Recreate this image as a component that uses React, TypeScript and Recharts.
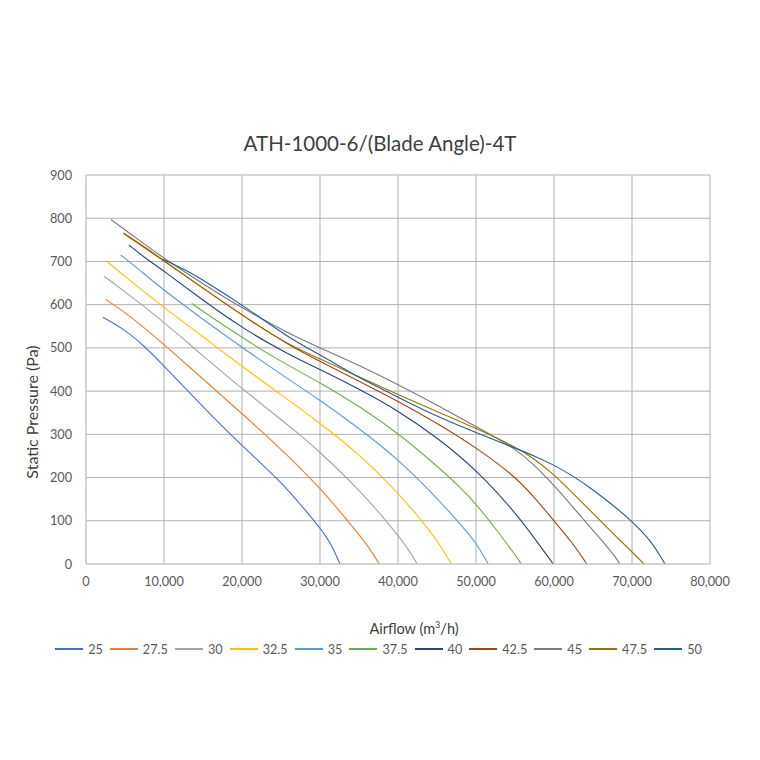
import { LineChart, Line, XAxis, YAxis, CartesianGrid } from "recharts";

// blade angles, one curve each: [airflow m3/h, static pressure Pa]
const angles = ["25", "27.5", "30", "32.5", "35", "37.5", "40", "42.5", "45", "47.5", "50"];

const curve25 = [[2150, 571], [5000, 542], [7500, 504], [10000, 458], [12500, 411], [15000, 364], [17500, 318], [20000, 274], [22500, 232], [25000, 189], [27500, 138], [30000, 84], [31500, 45], [32550, 0]];
const curve275 = [[2550, 612], [5000, 582], [7500, 546], [10000, 508], [15000, 428], [20000, 348], [25000, 266], [27500, 222], [30000, 175], [32500, 123], [35000, 68], [36500, 33], [37600, 0]];
const curve30 = [[2300, 666], [5000, 630], [10000, 560], [15000, 481], [20000, 406], [25000, 334], [27500, 298], [30000, 259], [35000, 172], [38000, 110], [40000, 66], [41500, 30], [42450, 0]];
const curve325 = [[2550, 702], [5000, 665], [10000, 593], [15000, 526], [20000, 457], [25000, 392], [30000, 326], [35000, 255], [40000, 165], [42500, 112], [45000, 56], [46850, 0]];
const curve35 = [[4450, 715], [7500, 671], [10000, 633], [15000, 566], [20000, 501], [25000, 439], [30000, 379], [35000, 314], [40000, 243], [45000, 153], [48000, 92], [50000, 50], [51580, 0]];
const curve375 = [[13550, 603], [15000, 584], [20000, 524], [25000, 468], [30000, 420], [35000, 366], [40000, 303], [45000, 227], [48000, 177], [50000, 139], [52500, 82], [55000, 22], [55800, 0]];
const curve40 = [[5500, 738], [7500, 709], [10000, 678], [15000, 610], [20000, 546], [26000, 484], [30000, 450], [35000, 405], [40000, 355], [45000, 293], [50000, 219], [55000, 120], [57500, 60], [59900, 0]];
const curve425 = [[4800, 765], [7500, 732], [10000, 701], [15000, 638], [20000, 576], [26000, 506], [30000, 469], [35000, 423], [40000, 377], [45000, 326], [50000, 270], [55000, 203], [57500, 154], [60000, 100], [62500, 46], [64200, 0]];
const curve45 = [[3200, 797], [5000, 773], [7500, 740], [10000, 707], [15000, 648], [20000, 592], [26000, 533], [30000, 500], [35000, 460], [40000, 415], [45000, 368], [50000, 318], [55000, 268], [57500, 229], [60000, 182], [62500, 130], [65000, 78], [67500, 26], [68460, 0]];
const curve475 = [[4800, 766], [7500, 734], [10000, 702], [15000, 638], [20000, 575], [26000, 506], [30000, 475], [35000, 433], [40000, 392], [45000, 353], [50000, 314], [55000, 272], [57500, 243], [60000, 207], [62500, 162], [65000, 117], [67500, 72], [70000, 28], [71540, 0]];
const curve50 = [[9800, 705], [12500, 683], [15000, 657], [20000, 600], [26000, 523], [30000, 484], [32600, 457], [35000, 431], [40000, 386], [45000, 341], [50000, 304], [55000, 268], [57500, 250], [60000, 229], [62500, 203], [65000, 172], [67500, 137], [70000, 99], [72500, 53], [74230, 0]];

const curves = [curve25, curve275, curve30, curve325, curve35, curve375, curve40, curve425, curve45, curve475, curve50];
const colors = ["#4472C4", "#ED7D31", "#A5A5A5", "#FFC000", "#5B9BD5", "#70AD47", "#264478", "#9E480E", "#7a7a7a", "#997300", "#255E91"];

const xTicks = [0, 10000, 20000, 30000, 40000, 50000, 60000, 70000, 80000];
const yTicks = [0, 100, 200, 300, 400, 500, 600, 700, 800, 900];

const font = "Lato, 'Open Sans', sans-serif";
const tickStyle = { fontSize: 12.7, fill: "#595959", fontFamily: font };

const center = (x: number, y: number) => ({
  position: "absolute" as const,
  left: x,
  top: y,
  transform: "translate(-50%, -50%)",
  whiteSpace: "nowrap" as const,
  lineHeight: 1,
  fontFamily: font,
});

export default function App() {
  return (
    <div style={{ position: "absolute", left: 0, top: 0, width: 760, height: 760, background: "#fff" }}>
      <div style={{ ...center(380, 143), fontSize: 20.5, color: "#404040" }}>ATH-1000-6/(Blade Angle)-4T</div>

      <LineChart width={760} height={760} margin={{ top: 175, right: 50, left: 0, bottom: 166 }}>
        <CartesianGrid stroke="#b0b0b0" strokeWidth={1} />
        <XAxis
          type="number"
          dataKey="x"
          domain={[0, 80000]}
          ticks={xTicks}
          tickFormatter={(v: number) => v.toLocaleString("en-US")}
          tick={tickStyle}
          tickLine={false}
          tickSize={0}
          tickMargin={13}
          axisLine={{ stroke: "#d0d0d0" }}
          height={30}
          allowDataOverflow
        />
        <YAxis
          type="number"
          dataKey="y"
          domain={[0, 900]}
          ticks={yTicks}
          tick={tickStyle}
          tickLine={false}
          tickSize={0}
          tickMargin={14}
          axisLine={{ stroke: "#d0d0d0" }}
          width={86}
        />
        {curves.map((c, i) => (
          <Line
            key={angles[i]}
            data={c.map(([x, y]) => ({ x, y }))}
            dataKey="y"
            type="basis"
            stroke={colors[i]}
            strokeWidth={1.1}
            dot={false}
            activeDot={false}
            isAnimationActive={false}
          />
        ))}
      </LineChart>

      <div style={{ ...center(32, 412), fontSize: 16, color: "#404040", transform: "translate(-50%, -50%) rotate(-90deg)" }}>
        Static Pressure (Pa)
      </div>
      <div style={{ ...center(414, 629), fontSize: 14.5, color: "#404040" }}>
        Airflow (m<sup style={{ fontSize: 9, verticalAlign: "super", lineHeight: 0 }}>3</sup>/h)
      </div>

      <div
        style={{
          position: "absolute",
          left: 0,
          top: 641,
          width: 757,
          display: "flex",
          justifyContent: "center",
          alignItems: "center",
          fontFamily: font,
          fontSize: 12.7,
          color: "#595959",
        }}
      >
        {angles.map((a, i) => (
          <div key={a} style={{ display: "flex", alignItems: "center", marginRight: i < angles.length - 1 ? 7 : 0 }}>
            <div style={{ width: 28, height: 0, borderTop: `2px solid ${colors[i]}`, marginRight: 5 }} />
            <span>{a}</span>
          </div>
        ))}
      </div>
    </div>
  );
}
